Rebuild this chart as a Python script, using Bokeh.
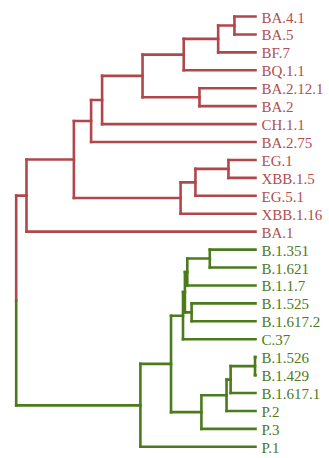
from bokeh.plotting import figure
from bokeh.models import Range1d, ColumnDataSource
from bokeh.core.properties import value
from bokeh.embed import file_html
from bokeh.resources import INLINE

# ---- data: leaf order (top to bottom) and clade of each leaf ----
leaves = ["BA.4.1", "BA.5", "BF.7", "BQ.1.1", "BA.2.12.1", "BA.2", "CH.1.1",
          "BA.2.75", "EG.1", "XBB.1.5", "EG.5.1", "XBB.1.16", "BA.1",
          "B.1.351", "B.1.621", "B.1.1.7", "B.1.525", "B.1.617.2", "C.37",
          "B.1.526", "B.1.429", "B.1.617.1", "P.2", "P.3", "P.1"]
clades = ["omicron"] * 13 + ["early"] * 12

# internal nodes: name, children, depth (root = 0, leaf tips = 1)
node_names = ["n1", "n2", "n3", "n4", "n5", "n6", "n7", "n8", "n9", "n10", "n11", "n12",
              "g1", "g2", "g3", "g4", "g5", "g6", "g7", "g8", "g9", "g10", "g11", "root"]
node_children = [("BA.4.1", "BA.5"), ("n1", "BF.7"), ("n2", "BQ.1.1"),
                 ("BA.2.12.1", "BA.2"), ("n3", "n4"), ("n5", "CH.1.1"),
                 ("n6", "BA.2.75"), ("EG.1", "XBB.1.5"), ("n8", "EG.5.1"),
                 ("n9", "XBB.1.16"), ("n7", "n10"), ("n11", "BA.1"),
                 ("B.1.351", "B.1.621"), ("g1", "B.1.1.7"), ("B.1.525", "B.1.617.2"),
                 ("g2", "g3"), ("g4", "C.37"), ("B.1.526", "B.1.429"),
                 ("g6", "B.1.617.1"), ("g7", "P.2"), ("g8", "P.3"), ("g5", "g9"),
                 ("g10", "P.1"), ("n12", "g11")]
node_depths = [0.912, 0.844, 0.700, 0.766, 0.528, 0.359, 0.313, 0.887, 0.749, 0.687,
               0.241, 0.043, 0.809, 0.715, 0.733, 0.705, 0.697, 0.998, 0.896, 0.879,
               0.774, 0.647, 0.519, 0.0]
node_clades = ["omicron"] * 12 + ["early"] * 11 + ["root"]

colors = {"omicron": "#b0474b", "early": "#4b7b1c"}
text_colors = {"omicron": "#b04e50", "early": "#4d7a22"}

# ---- layout ----
pos_y = {name: i for i, name in enumerate(leaves)}
pos_x = {name: 1.0 for name in leaves}
clade_of = dict(zip(leaves, clades))
for name, ch, d, c in zip(node_names, node_children, node_depths, node_clades):
    pos_y[name] = sum(pos_y[k] for k in ch) / len(ch)
    pos_x[name] = d
    clade_of[name] = c

segs = {"x0": [], "y0": [], "x1": [], "y1": [], "color": []}
def add(x0, y0, x1, y1, col):
    segs["x0"].append(x0); segs["y0"].append(y0)
    segs["x1"].append(x1); segs["y1"].append(y1)
    segs["color"].append(col)

for name, ch in zip(node_names, node_children):
    x = pos_x[name]
    for k in ch:
        add(x, pos_y[k], pos_x[k], pos_y[k], colors[clade_of[k]])
    ys = [pos_y[k] for k in ch]
    if clade_of[name] == "root":
        for k in ch:
            add(x, pos_y[name], x, pos_y[k], colors[clade_of[k]])
    else:
        add(x, min(ys), x, max(ys), colors[clade_of[name]])

W, H = 329, 458
X0, XS = 15.7, 239.3     # pixel of depth 0, pixels per unit depth
Y0, YS = 16.0, 17.93     # pixel of first leaf, pixels per leaf
p = figure(width=W, height=H, output_backend="svg", toolbar_location=None,
           x_range=Range1d(-X0 / XS, (W - X0) / XS),
           y_range=Range1d((H - Y0) / YS, -Y0 / YS),
           min_border=0, min_border_left=0, min_border_right=0,
           min_border_top=0, min_border_bottom=0)
p.axis.visible = False
p.grid.visible = False
p.outline_line_color = None
p.background_fill_color = "white"
p.border_fill_color = "white"

p.segment("x0", "y0", "x1", "y1", source=ColumnDataSource(segs),
          line_color="color", line_width=2.6, line_cap="square")

lab = ColumnDataSource(dict(x=[pos_x[n] for n in leaves], y=[pos_y[n] for n in leaves],
                            text=leaves, color=[text_colors[c] for c in clades]))
p.text("x", "y", text="text", source=lab, text_color="color",
       text_font=value("Liberation Serif"), text_font_size="15px",
       text_baseline="middle", text_align="left", x_offset=6, y_offset=1)

open("out.html", "w").write(file_html(p, INLINE))
